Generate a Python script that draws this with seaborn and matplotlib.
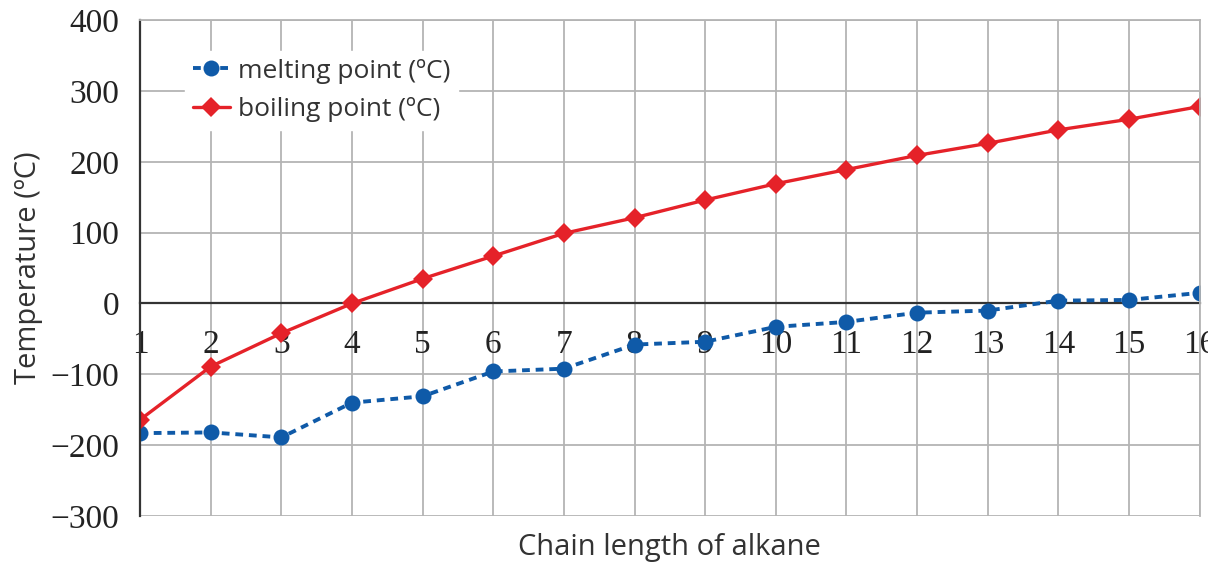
import numpy as np
import pandas as pd
import matplotlib
matplotlib.use("Agg")
import matplotlib.pyplot as plt
import seaborn as sns

# chain length of the alkane (number of carbon atoms)
chain_length = [1, 2, 3, 4, 5, 6, 7, 8, 9, 10, 11, 12, 13, 14, 15, 16]
melting_point = [-183, -182, -189, -140, -131, -96, -92, -58, -54, -33, -26, -13, -10, 4, 5, 15]
boiling_point = [-164, -89, -42, 0, 35, 67, 99, 121, 146, 169, 189, 209, 226, 245, 260, 278]
y_ticks = [-300, -200, -100, 0, 100, 200, 300, 400]

melt_label = "melting point (ºC)"
boil_label = "boiling point (ºC)"

sns.set_style("white")
plt.rcParams["font.family"] = ["Open Sans", "DejaVu Sans"]

blue = "#0f5aa8"
red = "#e52229"
grid_col = "#b4b4b4"

fig = plt.figure(figsize=(12.08, 5.74), dpi=100)
ax = fig.add_axes([0.116, 0.101, 0.877, 0.864])

df = pd.DataFrame({"n": chain_length, "melt": melting_point, "boil": boiling_point})

sns.lineplot(data=df, x="n", y="melt", ax=ax, color=blue, marker="o", markersize=11.5,
             markeredgewidth=0, linewidth=2.8, linestyle=(0, (2.0, 1.5)), label=melt_label)
sns.lineplot(data=df, x="n", y="boil", ax=ax, color=red, marker="D", markersize=10.5,
             markeredgewidth=0, linewidth=2.4, label=boil_label)

ax.set_xlim(1, 16)
ax.set_ylim(-300, 400)
ax.set_xticks(chain_length)
ax.set_yticks(y_ticks)
ax.grid(True, color=grid_col, linewidth=1.3)
ax.set_axisbelow(True)

# x axis sits on the zero line
ax.spines["bottom"].set_position(("data", 0))
ax.spines["bottom"].set_color("#333333")
ax.spines["bottom"].set_linewidth(1.6)
ax.spines["bottom"].set_zorder(1.5)
ax.spines["left"].set_color("#333333")
ax.spines["left"].set_linewidth(1.6)
for s in ["top", "right"]:
    ax.spines[s].set_color(grid_col)
    ax.spines[s].set_linewidth(1.3)

serif = ["Liberation Serif", "DejaVu Serif"]
ax.tick_params(axis="x", direction="out", length=10, width=1.4, color="#333333", pad=9)
ax.tick_params(axis="y", direction="out", length=12, width=1.4, color="#333333", pad=3)
for lab in ax.get_xticklabels() + ax.get_yticklabels():
    lab.set_family(serif)
    lab.set_fontsize(24)
    lab.set_color("#222222")

ax.set_xlabel("Chain length of alkane", fontsize=21, color="#333333")
ax.set_ylabel("Temperature (ºC)", fontsize=21, color="#333333")
ax.xaxis.set_label_coords(0.5, -0.035)
ax.yaxis.set_label_coords(-0.092, 0.5)

leg = ax.legend(loc="upper left", bbox_to_anchor=(0.03, 0.965), frameon=True, fontsize=19,
                handlelength=1.4, handletextpad=0.3, borderpad=0.3, labelspacing=0.5,
                framealpha=1, edgecolor="white", facecolor="white")
for t in leg.get_texts():
    t.set_color("#333333")

fig.savefig("out.png", dpi=100)
